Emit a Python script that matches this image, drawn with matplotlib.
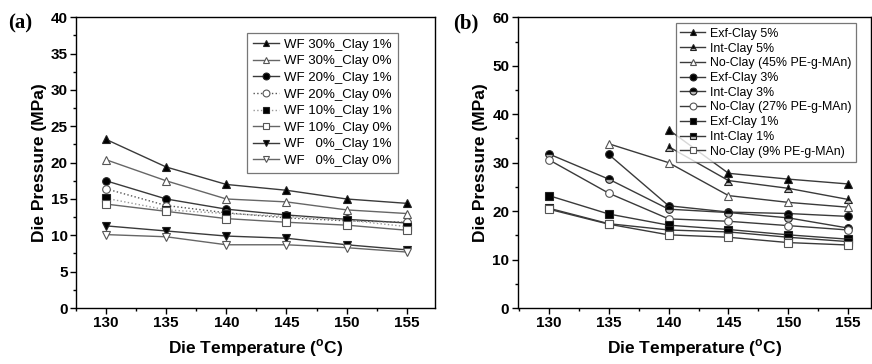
import matplotlib
matplotlib.use("Agg")
import matplotlib.pyplot as plt
from matplotlib.ticker import MultipleLocator

plt.rcParams['font.family'] = ['Liberation Sans', 'DejaVu Sans']
plt.rcParams['mathtext.fontset'] = 'custom'
plt.rcParams['mathtext.rm'] = 'Liberation Sans'

temps = [130, 135, 140, 145, 150, 155]

# Panel (a)
labels_a = ['WF 30%_Clay 1%', 'WF 30%_Clay 0%', 'WF 20%_Clay 1%', 'WF 20%_Clay 0%',
            'WF 10%_Clay 1%', 'WF 10%_Clay 0%', 'WF   0%_Clay 1%', 'WF   0%_Clay 0%']
wf30_c1 = [23.2, 19.4, 17.0, 16.2, 15.0, 14.4]
wf30_c0 = [20.4, 17.5, 15.0, 14.6, 13.5, 13.0]
wf20_c1 = [17.5, 15.0, 13.6, 12.8, 12.2, 11.7]
wf20_c0 = [16.4, 14.1, 13.1, 12.4, 12.0, 11.8]
wf10_c1 = [15.1, 13.5, 13.0, 12.6, 12.1, 11.2]
wf10_c0 = [14.3, 13.3, 12.3, 11.8, 11.4, 10.7]
wf0_c1 = [11.3, 10.6, 9.9, 9.6, 8.7, 8.0]
wf0_c0 = [10.1, 9.8, 8.7, 8.7, 8.3, 7.7]
series_a = [wf30_c1, wf30_c0, wf20_c1, wf20_c0, wf10_c1, wf10_c0, wf0_c1, wf0_c0]

# Panel (b)
labels_b = ['Exf-Clay 5%', 'Int-Clay 5%', 'No-Clay (45% PE-g-MAn)',
            'Exf-Clay 3%', 'Int-Clay 3%', 'No-Clay (27% PE-g-MAn)',
            'Exf-Clay 1%', 'Int-Clay 1%', 'No-Clay (9% PE-g-MAn)']
exf5 = [None, None, 36.8, 27.8, 26.6, 25.6]
int5 = [None, None, 33.3, 26.3, 24.7, 22.4]
no45 = [None, 33.9, 30.0, 23.2, 21.8, 20.8]
exf3 = [None, 31.7, 21.1, 19.8, 19.5, 18.9]
int3 = [31.8, 26.6, 20.4, 19.7, 18.6, 16.5]
no27 = [30.6, 23.7, 18.4, 17.9, 17.0, 16.1]
exf1 = [23.2, 19.4, 17.1, 16.2, 15.1, 14.2]
int1 = [20.6, 17.4, 16.1, 15.7, 14.6, 13.7]
no9 = [20.4, 17.3, 15.1, 14.6, 13.5, 13.0]
series_b = [exf5, int5, no45, exf3, int3, no27, exf1, int1, no9]

W, H = 872, 364
fig = plt.figure(figsize=(W / 100, H / 100), dpi=100)
axa = fig.add_axes([76 / W, (H - 308) / H, (435 - 76) / W, 290.7 / H])
axb = fig.add_axes([517.7 / W, (H - 308) / H, (871 - 517.7) / W, 290.7 / H])

lc = '#3a3a3a'
styles_a = [
    dict(marker='^', mfc='black', ls='-', color=lc),
    dict(marker='^', mfc='white', ls='-', color='#666666'),
    dict(marker='o', mfc='black', ls='-', color=lc),
    dict(marker='o', mfc='white', ls=':', color='#555555'),
    dict(marker='s', mfc='black', ls=':', color='#999999'),
    dict(marker='s', mfc='white', ls='-', color='#666666'),
    dict(marker='v', mfc='black', ls='-', color=lc),
    dict(marker='v', mfc='white', ls='-', color='#666666'),
]
for lab, ys, st in zip(labels_a, series_a, styles_a):
    axa.plot(temps, ys, label=lab, marker=st['marker'], mfc=st['mfc'],
             mec='#222222' if st['mfc'] == 'black' else '#555555',
             ls=st['ls'], color=st['color'], lw=1.0, ms=5.5, mew=0.8)

styles_b = [
    dict(marker='^', mfc='black', fs='full'),
    dict(marker='^', mfc='black', fs='top'),
    dict(marker='^', mfc='white', fs='full'),
    dict(marker='o', mfc='black', fs='full'),
    dict(marker='o', mfc='black', fs='top'),
    dict(marker='o', mfc='white', fs='full'),
    dict(marker='s', mfc='black', fs='full'),
    dict(marker='s', mfc='black', fs='top'),
    dict(marker='s', mfc='white', fs='full'),
]
for lab, ys, st in zip(labels_b, series_b, styles_b):
    xs = [t for t, y in zip(temps, ys) if y is not None]
    yv = [y for y in ys if y is not None]
    axb.plot(xs, yv, label=lab, marker=st['marker'], mfc=st['mfc'],
             fillstyle=st['fs'], markerfacecoloralt='#bbbbbb',
             mec='#222222' if st['mfc'] == 'black' else '#555555',
             ls='-', color=lc, lw=1.0, ms=5.5, mew=0.8)

for ax, ymax, ymin_step in [(axa, 40, 2.5), (axb, 60, 5)]:
    ax.set_ylim(0, ymax)
    ax.set_xticks(temps)
    ax.xaxis.set_minor_locator(MultipleLocator(2.5))
    ax.yaxis.set_major_locator(MultipleLocator(ymin_step * 2))
    ax.yaxis.set_minor_locator(MultipleLocator(ymin_step))
    ax.tick_params(which='major', direction='out', length=4, width=1, labelsize=11, pad=2)
    ax.tick_params(which='minor', direction='out', length=2.5, width=1)
    for lbl in ax.get_xticklabels() + ax.get_yticklabels():
        lbl.set_fontweight('bold')
    for sp in ax.spines.values():
        sp.set_linewidth(1.0)
    ax.set_ylabel('Die Pressure (MPa)', fontsize=12.5, fontweight='bold', labelpad=3)
    ax.set_xlabel(r'Die Temperature ($^\mathregular{o}$C)', fontsize=12.5,
                  fontweight='bold', labelpad=5)

axa.set_xlim(127.5, 157.35)
axb.set_xlim(127.4, 156.9)

leg_a = axa.legend(loc='upper right', bbox_to_anchor=(0.915, 0.97), fontsize=9.5,
                   frameon=True, fancybox=False, edgecolor='#555555',
                   handlelength=2.0, handletextpad=0.4, labelspacing=0.33,
                   borderpad=0.45, markerscale=0.9)
leg_a.get_frame().set_linewidth(0.9)

leg_b = axb.legend(loc='upper right', bbox_to_anchor=(0.975, 1.0), fontsize=8.9,
                   frameon=True, fancybox=False, edgecolor='#555555',
                   handlelength=2.0, handletextpad=0.4, labelspacing=0.22,
                   borderpad=0.35, markerscale=0.9)
leg_b.get_frame().set_linewidth(0.9)

fig.text(8 / W, 1 - 23 / H, '(a)', family='Liberation Serif', fontweight='bold',
         fontsize=15, va='center', ha='left')
fig.text(453 / W, 1 - 23 / H, '(b)', family='Liberation Serif', fontweight='bold',
         fontsize=15, va='center', ha='left')

fig.savefig('out.png', dpi=100)
